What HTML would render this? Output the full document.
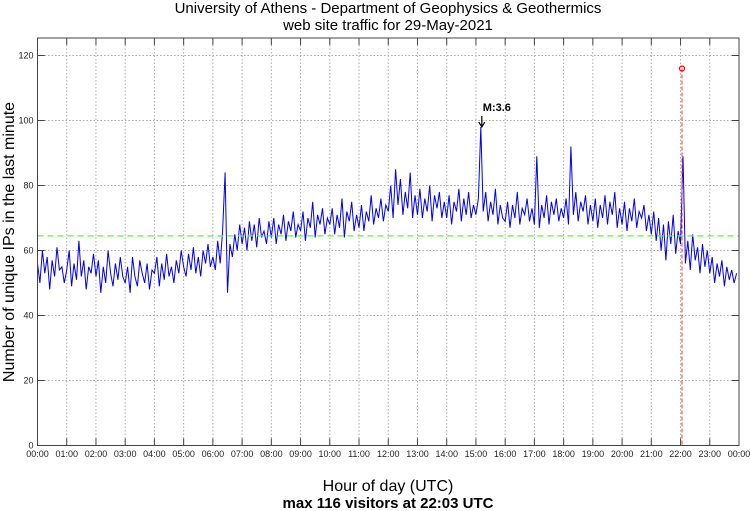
<!DOCTYPE html>
<html><head><meta charset="utf-8"><style>
html,body{margin:0;padding:0;background:#fff;}
svg{display:block;font-family:"Liberation Sans",sans-serif;}
</style></head><body>
<svg id="chart" width="750" height="511" viewBox="0 0 750 511">
<text x="388" y="13" font-size="15" text-anchor="middle">University of Athens - Department of Geophysics &amp; Geothermics</text>
<text x="388" y="30" font-size="15" text-anchor="middle">web site traffic for 29-May-2021</text>
<text x="388" y="491" font-size="16" text-anchor="middle">Hour of day (UTC)</text>
<text x="388" y="508" font-size="15" font-weight="bold" text-anchor="middle">max 116 visitors at 22:03 UTC</text>
<text transform="translate(14,242) rotate(-90)" font-size="16" text-anchor="middle">Number of unique IPs in the last minute</text>
<g id="grid"></g><g id="ticks"></g><g id="series"></g>
<rect x="37.5" y="38" width="701.5" height="407.5" fill="none" stroke="#444" stroke-width="1"/>
<g id="annot"></g>
</svg>
<script>
const hourLabels=["00:00","01:00","02:00","03:00","04:00","05:00","06:00","07:00","08:00","09:00","10:00","11:00","12:00","13:00","14:00","15:00","16:00","17:00","18:00","19:00","20:00","21:00","22:00","23:00","00:00"];
const yTicks=[0,20,40,60,80,100,120];
const visitors=[
56,50,60,53,58,48,57,52,61,54,55,50,
54,60,49,56,51,63,52,57,48,55,53,59,
52,57,47,55,50,60,53,49,56,51,58,52,
50,55,47,58,52,49,57,53,50,56,48,54,
53,58,49,56,51,59,52,55,50,57,53,60,
55,52,59,54,61,53,58,52,60,56,62,55,
58,54,63,56,66,84,47,62,58,65,60,68,
62,67,60,69,63,68,61,70,64,66,62,69,
64,70,62,68,65,71,63,69,66,72,64,68,
66,72,63,70,67,75,64,71,68,73,65,70,
68,73,65,71,67,76,64,72,69,75,66,71,
67,74,66,72,69,77,68,73,70,76,69,74,
72,80,70,85,74,82,71,78,73,84,70,77,
71,79,70,76,72,80,69,77,73,78,70,75,
70,77,68,75,72,79,69,76,71,78,70,74,
71,76,98,72,78,69,75,71,79,68,74,70,
69,75,67,74,70,78,68,73,71,76,69,73,
68,89,67,74,70,77,68,75,71,76,69,73,
70,76,68,92,71,78,69,75,72,77,68,74,
69,76,67,74,70,77,68,75,71,78,67,73,
68,75,66,73,69,76,67,72,70,74,66,71,
65,72,63,70,60,68,57,69,62,71,59,66,
62,89,56,63,54,65,57,61,53,62,55,60,
53,58,50,56,52,57,49,55,51,54,50,53];
const minutesPerPoint=5;
const meanLevel=[64.5];
const maxValue=[116];
const maxMinute=[22*60+3];
const markerLabel=["M:3.6"];
const markerMinute=[15*60+10];

const X0=37.5,X1=739,Y0=445.5,YS=3.25;
const xs=m=>X0+m/1440*(X1-X0);
const ys=v=>Y0-v*YS;
const NS="http://www.w3.org/2000/svg";
function mk(tag,parent,attrs){const e=document.createElementNS(NS,tag);for(const k in attrs)e.setAttribute(k,attrs[k]);parent.appendChild(e);return e;}
const grid=document.getElementById('grid'),ticks=document.getElementById('ticks'),series=document.getElementById('series'),annot=document.getElementById('annot');
hourLabels.forEach((l,i)=>{const x=xs(i*60);
 if(i>0&&i<24){const g=mk('line',grid,{x1:x,x2:x,y1:38,y2:Y0,stroke:'#aaa','stroke-dasharray':'1.5,2'});
 
 }
 const t=mk('line',ticks,{x1:x,x2:x,y1:Y0,y2:Y0-7,stroke:'#444'});
 
 
 const tt=mk('line',ticks,{x1:x,x2:x,y1:38,y2:45,stroke:'#444'});
 
 
 const tx=mk('text',ticks,{x:x,y:457,'font-size':9,'text-anchor':'middle',fill:'#222'});tx.textContent=l;
 
 
});
yTicks.forEach(v=>{const y=ys(v);
 if(v>0){const g=mk('line',grid,{x1:X0,x2:X1,y1:y,y2:y,stroke:'#aaa','stroke-dasharray':'1.5,2'});
 
 }
 const t=mk('line',ticks,{x1:X0,x2:X0+7,y1:y,y2:y,stroke:'#444'});
 
 
 const t2=mk('line',ticks,{x1:X1-7,x2:X1,y1:y,y2:y,stroke:'#444'});
 
 
 const tx=mk('text',ticks,{x:X0-4,y:y+3,'font-size':9,'text-anchor':'end',fill:'#222'});tx.textContent=v;
 
 
});
const pts=visitors.map((v,i)=>xs(i*minutesPerPoint).toFixed(1)+','+ys(v).toFixed(1)).join(' ');
const pl=mk('polyline',series,{points:pts,fill:'none',stroke:'#0000ee','stroke-width':1});


const ml=mk('line',series,{x1:X0,x2:X1,y1:ys(meanLevel[0]),y2:ys(meanLevel[0]),stroke:'#66ee44','stroke-width':1.2,'stroke-dasharray':'6,4'});


const mx=xs(maxMinute[0]);
const rl=mk('line',annot,{x1:mx,x2:mx,y1:ys(maxValue[0]),y2:Y0,stroke:'#ff3333','stroke-width':1,'stroke-dasharray':'4,2'});


const mc=mk('circle',annot,{cx:mx,cy:ys(maxValue[0]),r:2.5,fill:'none',stroke:'#ff0000','stroke-width':1.2});


const ax=xs(markerMinute[0])+1;
const ar=mk('path',annot,{d:`M${ax},116 L${ax},127 M${ax-3},122 L${ax},127 L${ax+3},122`,fill:'none',stroke:'#000','stroke-width':1.2});


const at=mk('text',annot,{x:ax+1,y:111,'font-size':11,'font-weight':'bold'});at.textContent=markerLabel[0];


</script>
</body></html>
